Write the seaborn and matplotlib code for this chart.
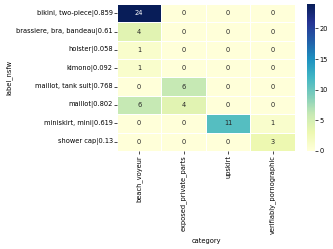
import numpy as np
import pandas as pd
import seaborn as sns
import matplotlib.pyplot as plt

labels = ['bikini, two-piece|0.859', 'brassiere, bra, bandeau|0.61', 'holster|0.058',
          'kimono|0.092', 'maillot, tank suit|0.768', 'maillot|0.802',
          'miniskirt, mini|0.619', 'shower cap|0.13']
categories = ['beach_voyeur', 'exposed_private_parts', 'upskirt', 'verifiably_pornographic']
beach_voyeur = [24, 4, 1, 1, 0, 6, 0, 0]
exposed_private_parts = [0, 0, 0, 0, 6, 4, 0, 0]
upskirt = [0, 0, 0, 0, 0, 0, 11, 0]
verifiably_pornographic = [0, 0, 0, 0, 0, 0, 1, 3]

df = pd.DataFrame({'beach_voyeur': beach_voyeur,
                   'exposed_private_parts': exposed_private_parts,
                   'upskirt': upskirt,
                   'verifiably_pornographic': verifiably_pornographic},
                  index=pd.Index(labels, name='label_nsfw'))
df.columns.name = 'category'

plt.rcParams['font.size'] = 4.8
fig = plt.figure(figsize=(3.33, 2.49), dpi=100)
ax = fig.add_axes([0.351, 0.394, 0.535, 0.590])
cax = fig.add_axes([0.922, 0.394, 0.024, 0.590])
sns.heatmap(df, annot=True, fmt='d', cmap='YlGnBu', linewidths=0.5, linecolor='white',
            ax=ax, cbar_ax=cax, annot_kws={'size': 4.8})
ax.tick_params(length=2, width=0.5, pad=1)
cax.tick_params(length=2, width=0.5, pad=1)
cax.set_yticks([0, 5, 10, 15, 20])
ax.xaxis.labelpad = 3
ax.yaxis.labelpad = 3
fig.savefig('out.png', dpi=100)
